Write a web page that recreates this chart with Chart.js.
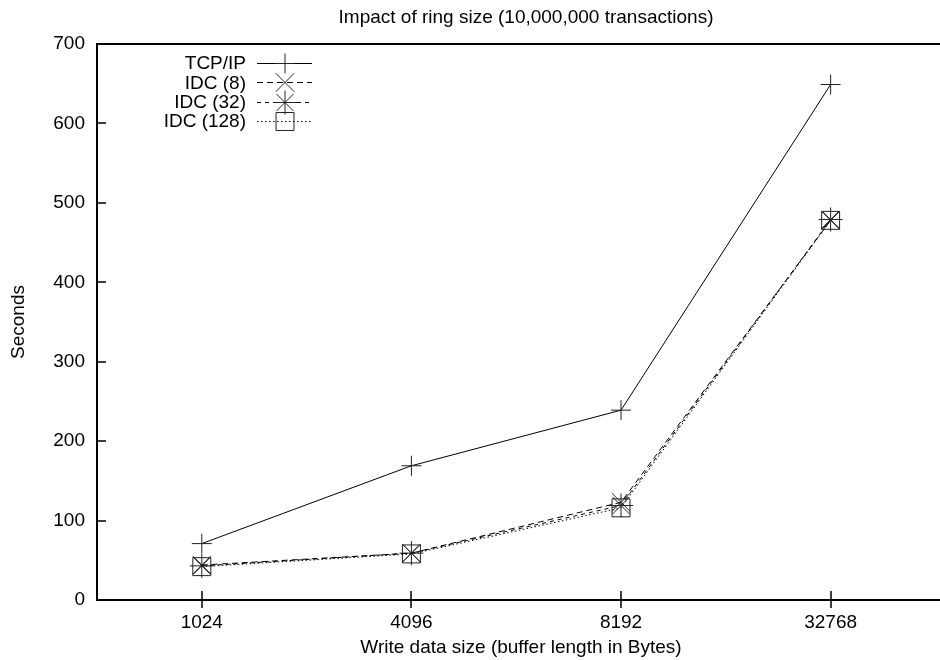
<!DOCTYPE html>
<html>
<head>
<meta charset="utf-8">
<script src="https://cdn.jsdelivr.net/npm/chart.js@4/dist/chart.umd.min.js"></script>
<style>
  html, body { margin: 0; padding: 0; background: #fff; overflow: hidden; }
  #wrap { width: 940px; height: 660px; position: relative; }
</style>
</head>
<body>
<div id="wrap"><canvas id="c" width="940" height="660"></canvas></div>
<script>
// ---- data ----
const categories = ['1024', '4096', '8192', '32768'];
const seriesNames = ['TCP/IP', 'IDC (8)', 'IDC (32)', 'IDC (128)'];
const tcpip   = [71, 169, 239, 649];
const idc8    = [44, 59, 123, 478];
const idc32   = [43, 59, 119, 479];
const idc128  = [42, 58, 116, 478];
const yTicks  = [0, 100, 200, 300, 400, 500, 600, 700];
const chartTitle = 'Impact of ring size (10,000,000 transactions)';
const xTitle = 'Write data size (buffer length in Bytes)';
const yTitle = 'Seconds';

const FONT = '"Liberation Sans", Arial, Helvetica, sans-serif';
const FS = 19;

function pts(vals) { return vals.map((v, i) => ({ x: i + 1, y: v })); }

const styles = [
  { pointStyle: 'cross',    radius: 10, dash: [] },
  { pointStyle: 'crossRot', radius: 13, dash: [6, 4] },
  { pointStyle: 'star',     radius: 12, dash: [4, 4] },
  { pointStyle: 'rect',     radius: 12.7, dash: [1.5, 2.5] }
];
const seriesValues = [tcpip, idc8, idc32, idc128];

const datasets = seriesValues.map((vals, i) => ({
  label: seriesNames[i],
  data: pts(vals),
  borderColor: '#000',
  borderWidth: 1,
  borderDash: styles[i].dash,
  backgroundColor: 'rgba(0,0,0,0)',
  pointStyle: styles[i].pointStyle,
  pointRadius: styles[i].radius,
  pointHoverRadius: styles[i].radius,
  pointBorderColor: '#222',
  pointBackgroundColor: 'rgba(0,0,0,0)',
  pointBorderWidth: 1,
  tension: 0,
  fill: false
}));

function drawMarker(ctx, style, r, x, y) {
  if (Chart.helpers && Chart.helpers.drawPoint) {
    Chart.helpers.drawPoint(ctx, { pointStyle: style, radius: r, rotation: 0, borderWidth: 1 }, x, y);
    return;
  }
  ctx.beginPath();
  if (style === 'cross' || style === 'star') {
    ctx.moveTo(x, y - r); ctx.lineTo(x, y + r);
    ctx.moveTo(x - r, y); ctx.lineTo(x + r, y);
  }
  if (style === 'crossRot' || style === 'star') {
    const d = r * Math.SQRT1_2;
    ctx.moveTo(x - d, y - d); ctx.lineTo(x + d, y + d);
    ctx.moveTo(x - d, y + d); ctx.lineTo(x + d, y - d);
  }
  if (style === 'rect') {
    const d = r * Math.SQRT1_2;
    ctx.rect(x - d, y - d, 2 * d, 2 * d);
  }
  ctx.stroke();
}

const framePlugin = {
  id: 'frame',
  afterDraw(chart) {
    const ctx = chart.ctx;
    const a = chart.chartArea;
    const xs = chart.scales.x, ys = chart.scales.y;
    ctx.save();
    ctx.strokeStyle = '#000';
    ctx.lineWidth = 2;
    ctx.setLineDash([]);
    ctx.beginPath();
    ctx.moveTo(940, a.top); ctx.lineTo(a.left, a.top);
    ctx.lineTo(a.left, a.bottom); ctx.lineTo(940, a.bottom);
    ctx.stroke();
    // y ticks inward
    ctx.lineWidth = 1.5;
    ctx.beginPath();
    yTicks.forEach(v => {
      const py = Math.round(ys.getPixelForValue(v));
      ctx.moveTo(a.left, py); ctx.lineTo(a.left + 9, py);
    });
    // x ticks crossing the axis
    categories.forEach((c, i) => {
      const px = Math.round(xs.getPixelForValue(i + 1));
      ctx.moveTo(px, a.bottom - 9); ctx.lineTo(px, a.bottom + 8);
    });
    ctx.stroke();

    // titles
    ctx.fillStyle = '#000';
    ctx.font = FS + 'px ' + FONT;
    ctx.textAlign = 'center';
    ctx.textBaseline = 'middle';
    ctx.fillText(chartTitle, 526, 18);
    ctx.fillText(xTitle, 521, 648);
    ctx.save();
    ctx.translate(19, 322);
    ctx.rotate(-Math.PI / 2);
    ctx.fillText(yTitle, 0, 0);
    ctx.restore();

    // legend
    seriesNames.forEach((name, i) => {
      const ly = 63 + i * 19.3;
      ctx.textAlign = 'right';
      ctx.fillStyle = '#000';
      ctx.fillText(name, 246, ly + 1);
      ctx.strokeStyle = '#000';
      ctx.lineWidth = 1;
      ctx.setLineDash(styles[i].dash);
      ctx.beginPath();
      ctx.moveTo(257, Math.round(ly) + 0.5); ctx.lineTo(312, Math.round(ly) + 0.5);
      ctx.stroke();
      ctx.setLineDash([]);
      ctx.strokeStyle = '#222';
      ctx.fillStyle = 'rgba(0,0,0,0)';
      drawMarker(ctx, styles[i].pointStyle, styles[i].radius, 285, Math.round(ly) + 0.5);
    });
    ctx.restore();
  }
};

new Chart(document.getElementById('c'), {
  type: 'line',
  data: { datasets },
  plugins: [framePlugin],
  options: {
    responsive: false,
    animation: false,
    devicePixelRatio: 1,
    layout: { padding: { top: 44, right: 0, left: 0, bottom: 0 } },
    plugins: { legend: { display: false }, title: { display: false }, tooltip: { enabled: false } },
    scales: {
      x: {
        type: 'linear',
        min: 0.5,
        max: 4.455,
        grid: { display: false, drawTicks: false },
        border: { display: false },
        afterBuildTicks: s => { s.ticks = categories.map((c, i) => ({ value: i + 1 })); },
        afterFit: s => { s.height = 60; },
        ticks: {
          autoSkip: false,
          maxRotation: 0,
          padding: 11,
          color: '#000',
          font: { family: FONT, size: FS },
          callback: v => categories[v - 1]
        }
      },
      y: {
        min: 0,
        max: 700,
        grid: { display: false, drawTicks: false },
        border: { display: false },
        afterBuildTicks: s => { s.ticks = yTicks.map(v => ({ value: v })); },
        afterFit: s => { s.width = 97; },
        ticks: {
          padding: 12,
          color: '#000',
          font: { family: FONT, size: FS }
        }
      }
    }
  }
});
</script>
</body>
</html>
